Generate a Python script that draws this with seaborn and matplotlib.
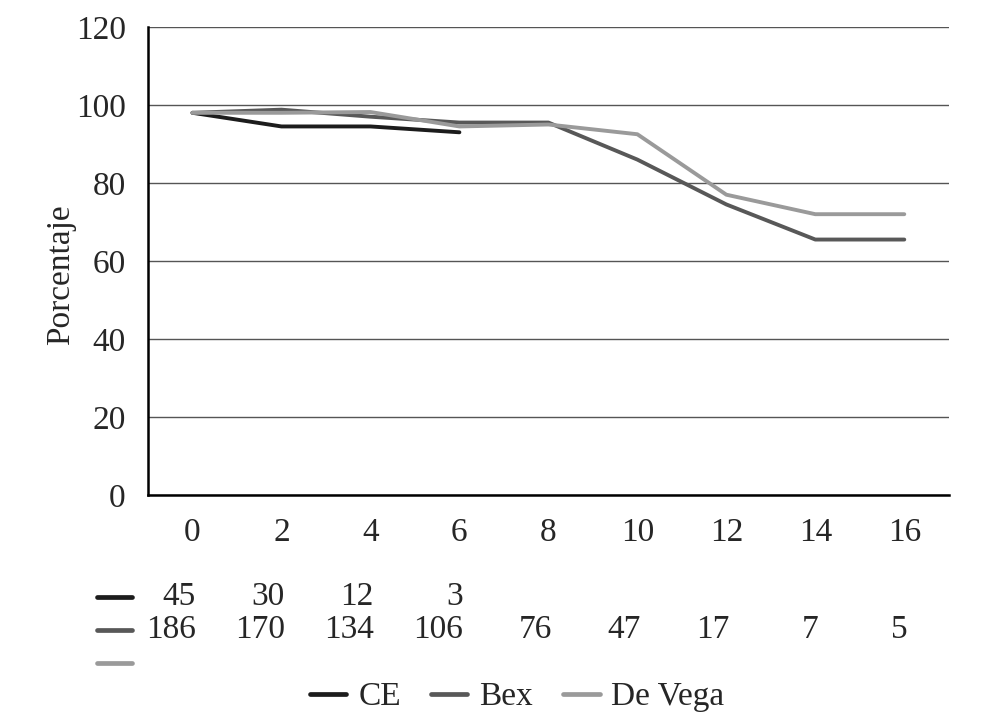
import pandas as pd
import matplotlib.pyplot as plt
import matplotlib.transforms as mtransforms
import seaborn as sns
from matplotlib.lines import Line2D

# data
meses = ["0", "2", "4", "6", "8", "10", "12", "14", "16"]
ce = [98, 94.5, 94.5, 93]
bex = [98, 98.8, 97, 95.5, 95.5, 86, 74.5, 65.5, 65.5]
devega = [98, 98, 98.2, 94.5, 95, 92.5, 77, 72, 72]
ce_riesgo = ["45", "30", "12", "3"]
bex_riesgo = ["186", "170", "134", "106", "76", "47", "17", "7", "5"]

colores = {"CE": "#1c1c1c", "Bex": "#585858", "De Vega": "#9a9a9a"}

rows = []
for nombre, vals in [("CE", ce), ("Bex", bex), ("De Vega", devega)]:
    for i, v in enumerate(vals):
        rows.append({"pos": i, "valor": v, "grupo": nombre})
df = pd.DataFrame(rows)

sns.set_style("white")
plt.rcParams['font.family'] = ['Liberation Serif', 'DejaVu Serif']
fs = 24

fig = plt.figure(figsize=(10.04, 7.18), dpi=100)
ax = fig.add_axes([0.1474, 0.3106, 0.7976, 0.6518])

sns.lineplot(data=df, x="pos", y="valor", hue="grupo", hue_order=["CE", "Bex", "De Vega"],
             palette=colores, linewidth=2.8, ax=ax, legend=False, zorder=3)

ax.set_xlim(-0.5, 8.5)
ax.set_ylim(0, 120)
ax.set_yticks(range(0, 121, 20))
ax.set_xticks(range(len(meses)))
ax.set_xticklabels(meses)
ax.set_xticks([i - 0.5 for i in range(len(meses) + 1)], minor=True)
ax.tick_params(axis="x", which="major", length=0, pad=16, labelsize=fs)
ax.tick_params(axis="x", which="minor", length=8, width=1.6, direction="out", color="black")
ax.tick_params(axis="y", length=8, width=1.6, direction="out", color="black", pad=8, labelsize=fs)
for s in ["top", "right"]:
    ax.spines[s].set_visible(False)
for s in ["left", "bottom"]:
    ax.spines[s].set_color("black")
    ax.spines[s].set_linewidth(1.8)
ax.grid(axis="y", color="#555555", linewidth=1.0)
ax.grid(axis="x", visible=False)
ax.set_xlabel("")
ax.set_ylabel("Porcentaje", fontsize=fs)
ax.yaxis.set_label_coords(-0.09, 0.47)

# tabla de pacientes en riesgo
trans = mtransforms.blended_transform_factory(ax.transData, fig.transFigure)
ytab = [597, 630, 663]
for fila, (nombre, etiquetas) in enumerate([("CE", ce_riesgo), ("Bex", bex_riesgo), ("De Vega", [])]):
    yf = 1 - ytab[fila] / 718
    fig.add_artist(Line2D([97 / 1004, 132 / 1004], [yf, yf], color=colores[nombre], linewidth=3.4))
    for i, t in enumerate(etiquetas):
        ax.text(i + 0.04, yf, t, transform=trans, ha="right", va="center", fontsize=fs, clip_on=False)

handles = [Line2D([], [], color=colores[n], linewidth=3.4) for n in ["CE", "Bex", "De Vega"]]
fig.legend(handles, ["CE", "Bex", "De Vega"], loc="center", bbox_to_anchor=(0.515, 1 - 697 / 718),
           ncol=3, frameon=False, fontsize=fs, handlelength=1.1, handletextpad=0.35, columnspacing=0.9)

fig.savefig("out.png", dpi=100)
